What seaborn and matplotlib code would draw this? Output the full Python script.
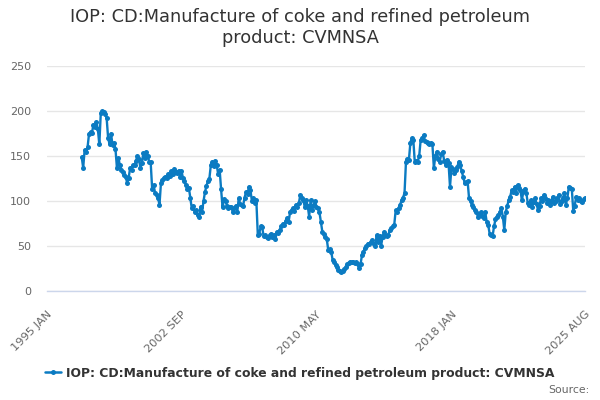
import matplotlib
matplotlib.use("Agg")
import matplotlib.pyplot as plt
import seaborn as sns
import pandas as pd
import numpy as np
from matplotlib.lines import Line2D

# ---- data (monthly, CVMNSA index) ----
axis_start = "1995-01"
axis_end = "2025-08"
data_start = "1997-01"

v1997 = [149, 137, 157, 155, 160, 175, 177, 176, 185, 182, 188, 180]
v1998 = [163, 198, 200, 199, 197, 192, 170, 163, 175, 162, 165, 158]
v1999 = [137, 148, 140, 135, 132, 129, 127, 120, 126, 137, 135, 140]
v2000 = [140, 145, 150, 147, 137, 142, 153, 148, 155, 150, 144, 143]
v2001 = [114, 118, 109, 107, 104, 96, 120, 124, 126, 127, 126, 130]
v2002 = [128, 133, 130, 136, 132, 131, 134, 127, 133, 126, 122, 118]
v2003 = [113, 115, 104, 92, 95, 88, 90, 85, 82, 94, 88, 100]
v2004 = [110, 117, 122, 125, 140, 144, 139, 145, 140, 130, 135, 113]
v2005 = [93, 102, 100, 95, 92, 94, 93, 88, 92, 95, 88, 103]
v2006 = [97, 96, 95, 104, 110, 108, 116, 112, 100, 103, 98, 101]
v2007 = [63, 64, 72, 71, 61, 62, 60, 59, 62, 64, 60, 62]
v2008 = [58, 66, 65, 68, 72, 75, 74, 78, 81, 77, 88, 90]
v2009 = [92, 89, 96, 94, 98, 107, 104, 101, 94, 101, 95, 83]
v2010 = [101, 90, 96, 100, 94, 92, 88, 77, 66, 64, 60, 58]
v2011 = [46, 47, 44, 35, 33, 29, 27, 24, 22, 21, 23, 25]
v2012 = [27, 30, 31, 33, 32, 33, 31, 32, 30, 26, 30, 40]
v2013 = [44, 48, 50, 53, 52, 55, 57, 53, 50, 62, 55, 61]
v2014 = [50, 60, 66, 62, 61, 63, 68, 70, 72, 74, 90, 88]
v2015 = [92, 96, 101, 104, 109, 144, 147, 146, 165, 170, 168, 143]
v2016 = [145, 144, 150, 168, 170, 173, 167, 166, 165, 164, 165, 163]
v2017 = [137, 150, 155, 147, 144, 152, 155, 145, 140, 146, 142, 116]
v2018 = [138, 136, 131, 135, 138, 144, 140, 133, 127, 120, 121, 122]
v2019 = [103, 100, 96, 94, 90, 88, 83, 86, 88, 84, 81, 88]
v2020 = [77, 74, 64, 63, 61, 72, 80, 83, 85, 88, 92, 83]
v2021 = [68, 88, 95, 101, 105, 112, 110, 116, 109, 118, 115, 112]
v2022 = [101, 111, 114, 109, 98, 96, 101, 94, 99, 103, 97, 90]
v2023 = [95, 103, 100, 107, 104, 98, 101, 96, 100, 105, 98, 100]
v2024 = [103, 107, 97, 100, 104, 109, 96, 104, 116, 115, 114, 89]
v2025 = [95, 105, 101, 103, 100, 99, 102, 103]

y_ticks = [0, 50, 100, 150, 200, 250]
x_label_months = ["1995-01", "2002-09", "2010-05", "2018-01", "2025-08"]

title = "IOP: CD:Manufacture of coke and refined petroleum\nproduct: CVMNSA"
series_name = "IOP: CD:Manufacture of coke and refined petroleum product: CVMNSA"

# ---- build frame ----
values = (v1997 + v1998 + v1999 + v2000 + v2001 + v2002 + v2003 + v2004 + v2005 +
          v2006 + v2007 + v2008 + v2009 + v2010 + v2011 + v2012 + v2013 + v2014 +
          v2015 + v2016 + v2017 + v2018 + v2019 + v2020 + v2021 + v2022 + v2023 +
          v2024 + v2025)
all_months = pd.period_range(axis_start, axis_end, freq="M")
data_months = pd.period_range(data_start, periods=len(values), freq="M")
month_index = {p: i for i, p in enumerate(all_months)}
df = pd.DataFrame({
    "idx": [month_index[p] for p in data_months],
    "value": values,
})
cat_labels = [f"{p.year} {p.strftime('%b').upper()}" for p in all_months]

# ---- style ----
sns.set_style("white")
plt.rcParams["font.family"] = ["DejaVu Sans"]

line_color = "#0b7bc2"
grid_color = "#e6e6e6"
axis_color = "#ccd6eb"
text_color = "#666666"

fig = plt.figure(figsize=(6, 4), dpi=100)
ax = fig.add_axes([46.5 / 600, (400 - 291.3) / 400, (585 - 46.5) / 600, (291.3 - 66) / 400])

sns.lineplot(data=df, x="idx", y="value", ax=ax, color=line_color, linewidth=1.7,
             marker="o", markersize=3.6, markeredgewidth=0, legend=False)

n = len(all_months)
ax.set_xlim(0, n - 1)
ax.set_ylim(0, 250)
ax.set_yticks(y_ticks)
ax.set_yticklabels([str(t) for t in y_ticks], color=text_color, fontsize=8)

major_pos = [month_index[pd.Period(m, freq="M")] for m in x_label_months]
ax.set_xticks(major_pos)
ax.set_xticklabels([cat_labels[i] for i in major_pos], rotation=45, ha="right",
                   va="top", rotation_mode="anchor", color=text_color, fontsize=8.2)
ax.set_xticks([k * 23 for k in range(1, 16) if k % 4 != 0], minor=True)
ax.tick_params(axis="x", which="both", length=10, width=1, color=axis_color,
               direction="out", pad=3)
ax.tick_params(axis="y", length=0, pad=11)

ax.yaxis.grid(True, color=grid_color, linewidth=1)
ax.xaxis.grid(False)
ax.set_axisbelow(True)
for s in ["top", "right", "left"]:
    ax.spines[s].set_visible(False)
ax.spines["bottom"].set_color(axis_color)
ax.spines["bottom"].set_linewidth(1)
ax.set_xlabel("")
ax.set_ylabel("")

fig.text(0.5, 1 - 7.5 / 400, title, ha="center", va="top", fontsize=12.8, color="#333333",
         linespacing=1.22)

# legend
handle = Line2D([0], [0], color=line_color, linewidth=1.8, marker="o",
                markersize=3.6, markeredgewidth=0)
fig.legend([handle], [series_name], loc="center", bbox_to_anchor=(0.5, 1 - 373 / 400),
           frameon=False, prop={"weight": "bold", "size": 8.9}, labelcolor="#333333",
           handlelength=1.3, handletextpad=0.4)

fig.text(0.982, 1 - 390 / 400, "Source:", ha="right", va="center", fontsize=7.8,
         color=text_color)

fig.savefig("out.png", dpi=100)
